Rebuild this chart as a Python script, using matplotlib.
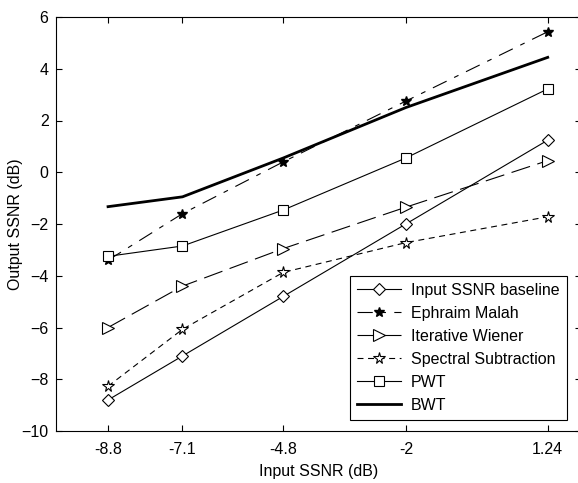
import matplotlib
matplotlib.use("Agg")
import matplotlib.pyplot as plt

plt.rcParams['font.family'] = ['Liberation Sans', 'DejaVu Sans']
plt.rcParams['lines.scale_dashes'] = False

# data
input_ssnr = [-8.8, -7.1, -4.8, -2, 1.24]
baseline = [-8.8, -7.1, -4.8, -2.0, 1.24]
ephraim = [-3.4, -1.6, 0.4, 2.75, 5.43]
wiener = [-6.0, -4.4, -2.95, -1.35, 0.45]
spectral = [-8.27, -6.07, -3.87, -2.72, -1.72]
pwt = [-3.25, -2.85, -1.46, 0.55, 3.22]
bwt = [-1.33, -0.95, 0.55, 2.5, 4.44]

y_ticks = [-10, -8, -6, -4, -2, 0, 2, 4, 6]

fig = plt.figure(figsize=(5.78, 4.83), dpi=100)
ax = fig.add_axes([55.5 / 578, 52 / 483, 525.5 / 578, 414 / 483])

ax.plot(input_ssnr, baseline, color='k', lw=0.8, ls='-', marker='D',
        ms=6.5, mfc='white', mec='k', mew=0.8, label='Input SSNR baseline')
ax.plot(input_ssnr, ephraim, color='k', lw=0.8, ls=(0, (11, 6, 3.5, 6)),
        marker='*', ms=7, mfc='k', mec='k', label='Ephraim Malah')
ax.plot(input_ssnr, wiener, color='k', lw=0.8, ls=(0, (14, 5.5)),
        marker='>', ms=8.5, mfc='white', mec='k', mew=0.8, label='Iterative Wiener')
ax.plot(input_ssnr, spectral, color='k', lw=0.8, ls=(0, (4.3, 3.3)),
        marker='*', ms=8.5, mfc='white', mec='k', mew=0.8, label='Spectral Subtraction')
ax.plot(input_ssnr, pwt, color='k', lw=0.8, ls='-', marker='s',
        ms=7, mfc='white', mec='k', mew=0.8, label='PWT')
ax.plot(input_ssnr, bwt, color='k', lw=2.0, ls='-', label='BWT')

ax.set_xlim(-10, 2)
ax.set_ylim(-10, 6)
ax.set_xticks(input_ssnr)
ax.set_xticklabels(['-8.8', '-7.1', '-4.8', '-2', '1.24'])
ax.set_yticks(y_ticks)
ax.tick_params(direction='in', top=True, right=True, length=4, width=0.8,
               labelsize=11.5)
ax.tick_params(axis='x', pad=8)
ax.tick_params(axis='y', pad=5)
for s in ax.spines.values():
    s.set_linewidth(0.8)

ax.set_xlabel('Input SSNR (dB)', fontsize=11.5, labelpad=5)
ax.set_ylabel('Output SSNR (dB)', fontsize=11.5, labelpad=-1)

leg = ax.legend(loc='lower right', bbox_to_anchor=(0.973, 0.027), fontsize=11.5,
                frameon=True, fancybox=False, edgecolor='k', framealpha=1,
                handlelength=2.8, handletextpad=0.6, labelspacing=0.5,
                borderpad=0.45, borderaxespad=0)
leg.get_frame().set_linewidth(0.8)

fig.savefig('out.png', dpi=100)
